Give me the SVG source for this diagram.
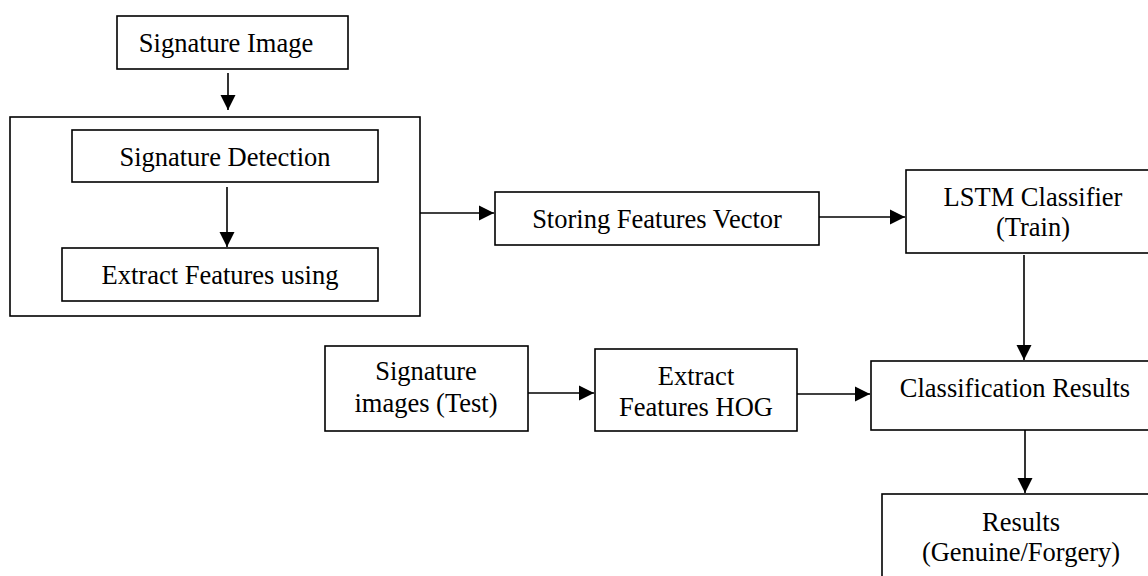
<svg xmlns="http://www.w3.org/2000/svg" width="1148" height="576" viewBox="0 0 1148 576">
<style>
  .box { fill: #ffffff; stroke: #000000; stroke-width: 1.6; }
  .lbl { font-family: "Liberation Serif", "Times New Roman", serif; font-size: 26.5px; fill: #000000; text-anchor: middle; }
  .conn { stroke: #000000; stroke-width: 1.6; fill: none; marker-end: url(#arrow); }
</style>
<defs>
  <marker id="arrow" markerUnits="userSpaceOnUse" markerWidth="16" markerHeight="16" viewBox="0 0 16 16" refX="15" refY="8" orient="auto">
    <polygon points="0,0.5 15,8 0,15.5" fill="#000000"/>
  </marker>
</defs>
<rect width="1148" height="576" fill="#ffffff"/>
<g id="sig-image">
  <rect class="box" x="117" y="16" width="231" height="53"/>
  <text class="lbl" x="226" y="52">Signature Image</text>
</g>
<g id="preprocess-group">
  <rect class="box" x="10" y="117" width="410" height="199"/>
</g>
<g id="sig-detection">
  <rect class="box" x="72" y="130" width="306" height="52"/>
  <text class="lbl" x="225" y="166">Signature Detection</text>
</g>
<g id="extract-features">
  <rect class="box" x="62" y="248" width="316" height="53"/>
  <text class="lbl" x="220" y="284">Extract Features using</text>
</g>
<g id="storing">
  <rect class="box" x="495" y="192" width="324" height="53"/>
  <text class="lbl" x="657" y="228">Storing Features Vector</text>
</g>
<g id="lstm">
  <rect class="box" x="906" y="170" width="254" height="83"/>
  <text class="lbl" x="1033" y="206">LSTM Classifier</text>
  <text class="lbl" x="1033" y="236">(Train)</text>
</g>
<g id="sig-test">
  <rect class="box" x="325" y="346" width="203" height="85"/>
  <text class="lbl" x="426" y="380">Signature</text>
  <text class="lbl" x="426" y="412">images (Test)</text>
</g>
<g id="hog">
  <rect class="box" x="595" y="349" width="202" height="82"/>
  <text class="lbl" x="696" y="385">Extract</text>
  <text class="lbl" x="696" y="416">Features HOG</text>
</g>
<g id="classification">
  <rect class="box" x="871" y="361" width="290" height="69"/>
  <text class="lbl" x="1015" y="397">Classification Results</text>
</g>
<g id="results">
  <rect class="box" x="882" y="494" width="278" height="100"/>
  <text class="lbl" x="1021" y="531">Results</text>
  <text class="lbl" x="1021" y="561">(Genuine/Forgery)</text>
</g>
<g id="connectors">
  <line class="conn" x1="228" y1="73" x2="228" y2="110"/>
  <line class="conn" x1="227" y1="187" x2="227" y2="247"/>
  <line class="conn" x1="420" y1="213" x2="494" y2="213"/>
  <line class="conn" x1="819" y1="217" x2="905" y2="217"/>
  <line class="conn" x1="1024" y1="255" x2="1024" y2="360"/>
  <line class="conn" x1="528" y1="393" x2="594" y2="393"/>
  <line class="conn" x1="797" y1="394" x2="870" y2="394"/>
  <line class="conn" x1="1025" y1="430" x2="1025" y2="493"/>
</g>
</svg>
